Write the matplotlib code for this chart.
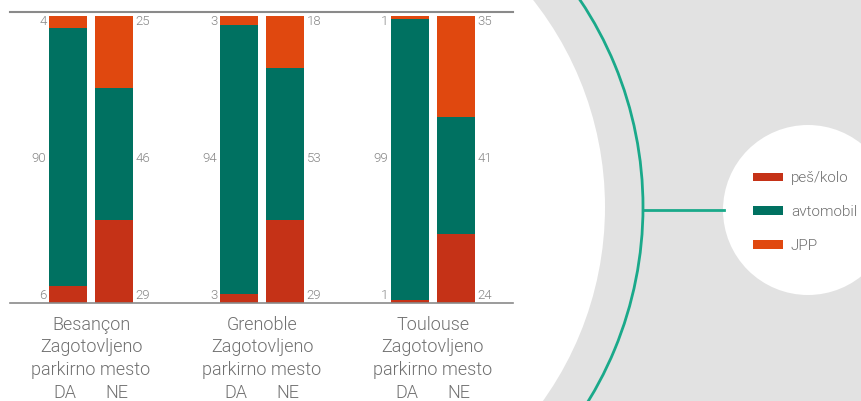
import matplotlib.pyplot as plt
from matplotlib import patches
import numpy as np

# podatki
mesta = ['Besançon', 'Grenoble', 'Toulouse']
serije = ['peš/kolo', 'avtomobil', 'JPP']
barve = ['#c53217', '#007161', '#e0480f']
# vrednosti za DA (zagotovljeno parkirno mesto) in NE
da_vrednosti = [[6, 90, 4], [3, 94, 3], [1, 99, 1]]
ne_vrednosti = [[29, 46, 25], [29, 53, 18], [24, 41, 35]]

plt.rcParams['font.family'] = ['Roboto', 'DejaVu Sans']
plt.rcParams['font.weight'] = 300
siva = '#707070'
svetla = '#888888'

fig = plt.figure(figsize=(8.62, 4.01), dpi=100)
fig.patch.set_facecolor('white')

# ozadje: siv pravokotnik, bel krog, zelen lok, majhen krog za legendo
bg = fig.add_axes([0, 0, 1, 1])
bg.set_xlim(0, 862)
bg.set_ylim(401, 0)
bg.axis('off')
bg.add_patch(patches.Rectangle((300, 0), 562, 401, color='#e2e2e2', lw=0))
bg.add_patch(patches.Circle((271, 207), 334, color='white', lw=0))
bg.add_patch(patches.Arc((271, 207), 744, 744, color='#1aa98a', lw=2))
bg.plot([643, 724], [210, 210], color='#1aa98a', lw=2)
bg.add_patch(patches.Circle((808, 210), 85, color='white', lw=0))

# stolpci (deleži normirani na 100)
ax = fig.add_axes([10 / 862, 1 - 303 / 401, 503 / 862, 291 / 401])
ax.patch.set_alpha(0)
x = np.arange(len(mesta))
sirina = 0.222
zamik = 0.1345
da = np.array(da_vrednosti)
ne = np.array(ne_vrednosti)
da_n = da / da.sum(axis=1, keepdims=True) * 100
ne_n = ne / ne.sum(axis=1, keepdims=True) * 100
for i, (ime, barva) in enumerate(zip(serije, barve)):
    ax.bar(x - zamik, da_n[:, i], sirina, bottom=da_n[:, :i].sum(axis=1), color=barva, label=ime)
    ax.bar(x + zamik, ne_n[:, i], sirina, bottom=ne_n[:, :i].sum(axis=1), color=barva)

ax.set_xlim(-0.474, 2.468)
ax.set_ylim(0, 101.5)
for s in ['left', 'right']:
    ax.spines[s].set_visible(False)
ax.spines['top'].set_color('#8a8a8a')
ax.spines['bottom'].set_color('#8a8a8a')
ax.spines['top'].set_linewidth(1.5)
ax.spines['bottom'].set_linewidth(1.2)
ax.set_yticks([])
ax.set_xticks([])

# oznake vrednosti in napisi pod skupinami
for g in range(len(mesta)):
    xl = x[g] - zamik - sirina / 2 - 0.015
    xr = x[g] + zamik + sirina / 2 + 0.015
    for j, (yv, va) in enumerate([(0.4, 'bottom'), (50.5, 'center'), (100.6, 'top')]):
        ax.text(xl, yv, str(da[g, j]), ha='right', va=va, fontsize=9.5, color=svetla)
        ax.text(xr, yv, str(ne[g, j]), ha='left', va=va, fontsize=9.5, color=svetla)
    for vrstica, yb in zip([mesta[g], 'Zagotovljeno', 'parkirno mesto'], [-9.4, -17.2, -25.2]):
        ax.text(x[g], yb, vrstica, ha='center', va='baseline', fontsize=13, color=siva,
                clip_on=False)
    ax.text(x[g] - 0.152, -33.2, 'DA', ha='center', va='baseline', fontsize=13, color=siva)
    ax.text(x[g] + 0.152, -33.2, 'NE', ha='center', va='baseline', fontsize=13, color=siva)

leg = fig.legend(loc='center left', bbox_to_anchor=(739 / 862, 1 - 212 / 401), frameon=False,
                 fontsize=11, handlelength=2.0, handleheight=0.45, labelspacing=1.3,
                 handletextpad=0.5, labelcolor=siva)

fig.savefig('out.png', dpi=100)
